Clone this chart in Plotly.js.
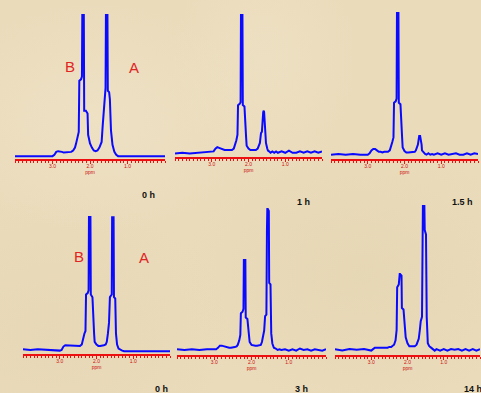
<!DOCTYPE html>
<html>
<head>
<meta charset="utf-8">
<script src="https://cdn.plot.ly/plotly-3.0.1.min.js"></script>
<style>
  html, body { margin: 0; padding: 0; }
  body {
    width: 481px; height: 393px; overflow: hidden;
    background-color: #eadbbb;
    background-image:
      radial-gradient(ellipse at 20% 30%, rgba(242,230,204,0.5) 0%, rgba(242,230,204,0) 30%),
      radial-gradient(ellipse at 75% 70%, rgba(226,210,174,0.5) 0%, rgba(226,210,174,0) 35%),
      radial-gradient(ellipse at 55% 15%, rgba(240,228,200,0.5) 0%, rgba(240,228,200,0) 25%),
      radial-gradient(ellipse at 10% 85%, rgba(228,212,178,0.5) 0%, rgba(228,212,178,0) 30%);
  }
  #chart { width: 481px; height: 393px; }
</style>
</head>
<body>
<div id="chart"></div>
<script>
// Chemical shift grid (ppm, descending)
const ppm = [4.0, 3.8, 3.6, 3.4, 3.2, 3.0,
  2.95, 2.9, 2.85, 2.8, 2.75, 2.7, 2.65, 2.6, 2.55, 2.5, 2.45, 2.4,
  2.37, 2.33, 2.30, 2.285, 2.24, 2.215, 2.205, 2.165, 2.155, 2.11, 2.065, 2.05, 2.0,
  1.95, 1.9, 1.85, 1.8, 1.75, 1.72,
  1.69, 1.66, 1.635, 1.60, 1.585, 1.575, 1.535, 1.525, 1.49, 1.47, 1.44, 1.40, 1.35, 1.3, 1.25,
  1.2, 1.1, 1.0, 0.9, 0.8, 0.7, 0.6, 0.5, 0.4, 0.3, 0.2, 0.1, 0.0];

// Relative intensities
const spec_0h_top = [0,0,0,0,0,0,
  1,3,3.5,3.5,3,2.5,2.5,2.5,2.5,3,4,6,
  9,14,17,53,54,56,100,100,32,32,30,15,9,
  6,4,3.5,4,6,8,
  10,22,30,46,48,100,100,46,45,40,18,8,3,1,0,
  0,0,0,0,0,0,0,0,0,0,0,0,0];
const spec_1h = [0.5,1,0.5,1,1,1.5,
  2,4,5,4.5,4,3,3,3,3,3,3,4,
  6,10,14,35,36,37,100,100,35,34,12,6,4,
  3,3,3,3,4,6,
  8,15,16,30,31,30,15,8,4,2.5,2,1,2,1,2,
  1,2,1,2.5,1,1,2,1,2,1,2,1,2];
const spec_1_5h = [1,1.5,1,1.5,1,1,
  2,4,5,5,4,3,3,2.5,3,3,3,4,
  6,10,13,37,38,40,100,100,37,36,13,6,3.5,
  2.5,2.5,2.5,2.5,2.5,3,
  4,6,8,14,14,14,8,4,3,2,1.5,1,2,1,1.5,
  1,2,1,2,1,1.5,2,1,1,2,1,2,1.5];
const spec_0h_bottom = [1.5,1,1.5,1,1,0.5,
  1,3.5,4.5,4.5,4.5,4,4,4,4.5,4,4,5,
  9,13,15,42,43,45,100,100,42,40,13,7,5,
  4,4,4,4.5,5,7,
  13,21,40,41,42,99,99,40,39,13,5,2,1,0.5,0,
  0,0,0,0,0,0,0,0,0,0.5,0,0,0];
const spec_3h = [2,1.5,2,1.5,2,2,
  2,3,4.5,4.5,4,3.5,3,3,3,3,3.5,4,
  5,8,12,27,28,30,64,64,24,23,12,7,5,
  4.5,4.5,4.5,4.5,5,7,
  11,15,25,26,85,100,98,48,47,13,6,3,2.5,1.5,2,
  1.5,2,1,2,1,2.5,1.5,2,1,2,1.5,1,2];
const spec_14h = [2,1,2,1.5,2,1,
  2,3,3,3,3,2.5,3,3,3,3.5,3.5,4.5,
  5,8,15,44,46,53,53,52,30,29,15,10,6,
  4,4,4,4,5,7,
  9,15,21,24,100,100,100,83,80,24,6,4,3,2,1,
  2,1,2,1,2,1.5,2,1,2,1,2,1,2];

const series = [spec_0h_top, spec_1h, spec_1_5h, spec_0h_bottom, spec_3h, spec_14h];
const timeLabels = ['0 h', '1 h', '1.5 h', '0 h', '3 h', '14 h'];
const tickVals = [3, 2, 1];
const tickText = ['3.0', '2.0', '1.0'];
const axisTitle = 'ppm';
const peakNames = ['B', 'A'];

const W = 481, H = 393;
const fx = p => p / W;
const fy = p => 1 - p / H;

// panel frames in pixels: [x0, x1, axisY, topY]
const frames = [
  [15, 165, 159, 14],
  [175, 322, 157, 14],
  [331, 478, 159, 12],
  [23, 170, 354, 216],
  [177, 326, 355, 208],
  [335, 480, 355, 205]
];

const data = [];
const layout = {
  width: W, height: H,
  margin: {l: 0, r: 0, t: 0, b: 0},
  paper_bgcolor: 'rgba(0,0,0,0)',
  plot_bgcolor: 'rgba(0,0,0,0)',
  showlegend: false,
  font: {family: 'Liberation Sans, Arial, sans-serif'},
  annotations: []
};

series.forEach((ys, i) => {
  const n = i + 1;
  const xa = 'x' + (n === 1 ? '' : n), ya = 'y' + (n === 1 ? '' : n);
  data.push({
    x: ppm, y: ys, xaxis: xa, yaxis: ya,
    type: 'scatter', mode: 'lines',
    line: {color: '#0a0aff', width: 2},
    hoverinfo: 'skip'
  });
  const f = frames[i];
  layout['xaxis' + (n === 1 ? '' : n)] = {
    domain: [fx(f[0]), fx(f[1])],
    anchor: ya,
    range: [4.0, 0.0],
    showgrid: false, zeroline: false,
    showline: true, linecolor: '#ee1010', linewidth: 2,
    ticks: 'outside', ticklen: 3, tickwidth: 1, tickcolor: '#ee1010',
    tickmode: 'array', tickvals: tickVals, ticktext: tickText,
    tickfont: {size: 5, color: '#cc1010'},
    ticklabelstandoff: -2,
    minor: {tickmode: 'linear', tick0: 0, dtick: 0.1, ticks: 'outside', ticklen: 2, tickwidth: 1, tickcolor: '#ee1010', showgrid: false},
    title: {text: axisTitle, font: {size: 5, color: '#cc1010'}, standoff: 1}
  };
  layout['yaxis' + (n === 1 ? '' : n)] = {
    domain: [fy(f[2]), fy(f[3])],
    anchor: xa,
    range: [-2, 100],
    visible: false
  };
  const tpos = [[148,195],[303,202],[462,202],[161,389],[301,389],[473,389]][i];
  layout.annotations.push({
    text: '<b>' + timeLabels[i] + '</b>', xref: 'paper', yref: 'paper',
    x: fx(tpos[0]), y: fy(tpos[1]), showarrow: false,
    xanchor: 'center', yanchor: 'middle',
    font: {size: 9, color: '#111111', family: 'Liberation Sans, Arial, sans-serif'}
  });
});

[[70, 66, 0], [134, 67, 1], [79, 256, 0], [144, 257, 1]].forEach(p => {
  layout.annotations.push({
    text: peakNames[p[2]], xref: 'paper', yref: 'paper',
    x: fx(p[0]), y: fy(p[1]), showarrow: false,
    xanchor: 'center', yanchor: 'middle',
    font: {size: 15, color: '#e02424', family: 'Liberation Sans, Arial, sans-serif'}
  });
});

Plotly.newPlot('chart', data, layout, {displayModeBar: false, staticPlot: true});
</script>
</body>
</html>
